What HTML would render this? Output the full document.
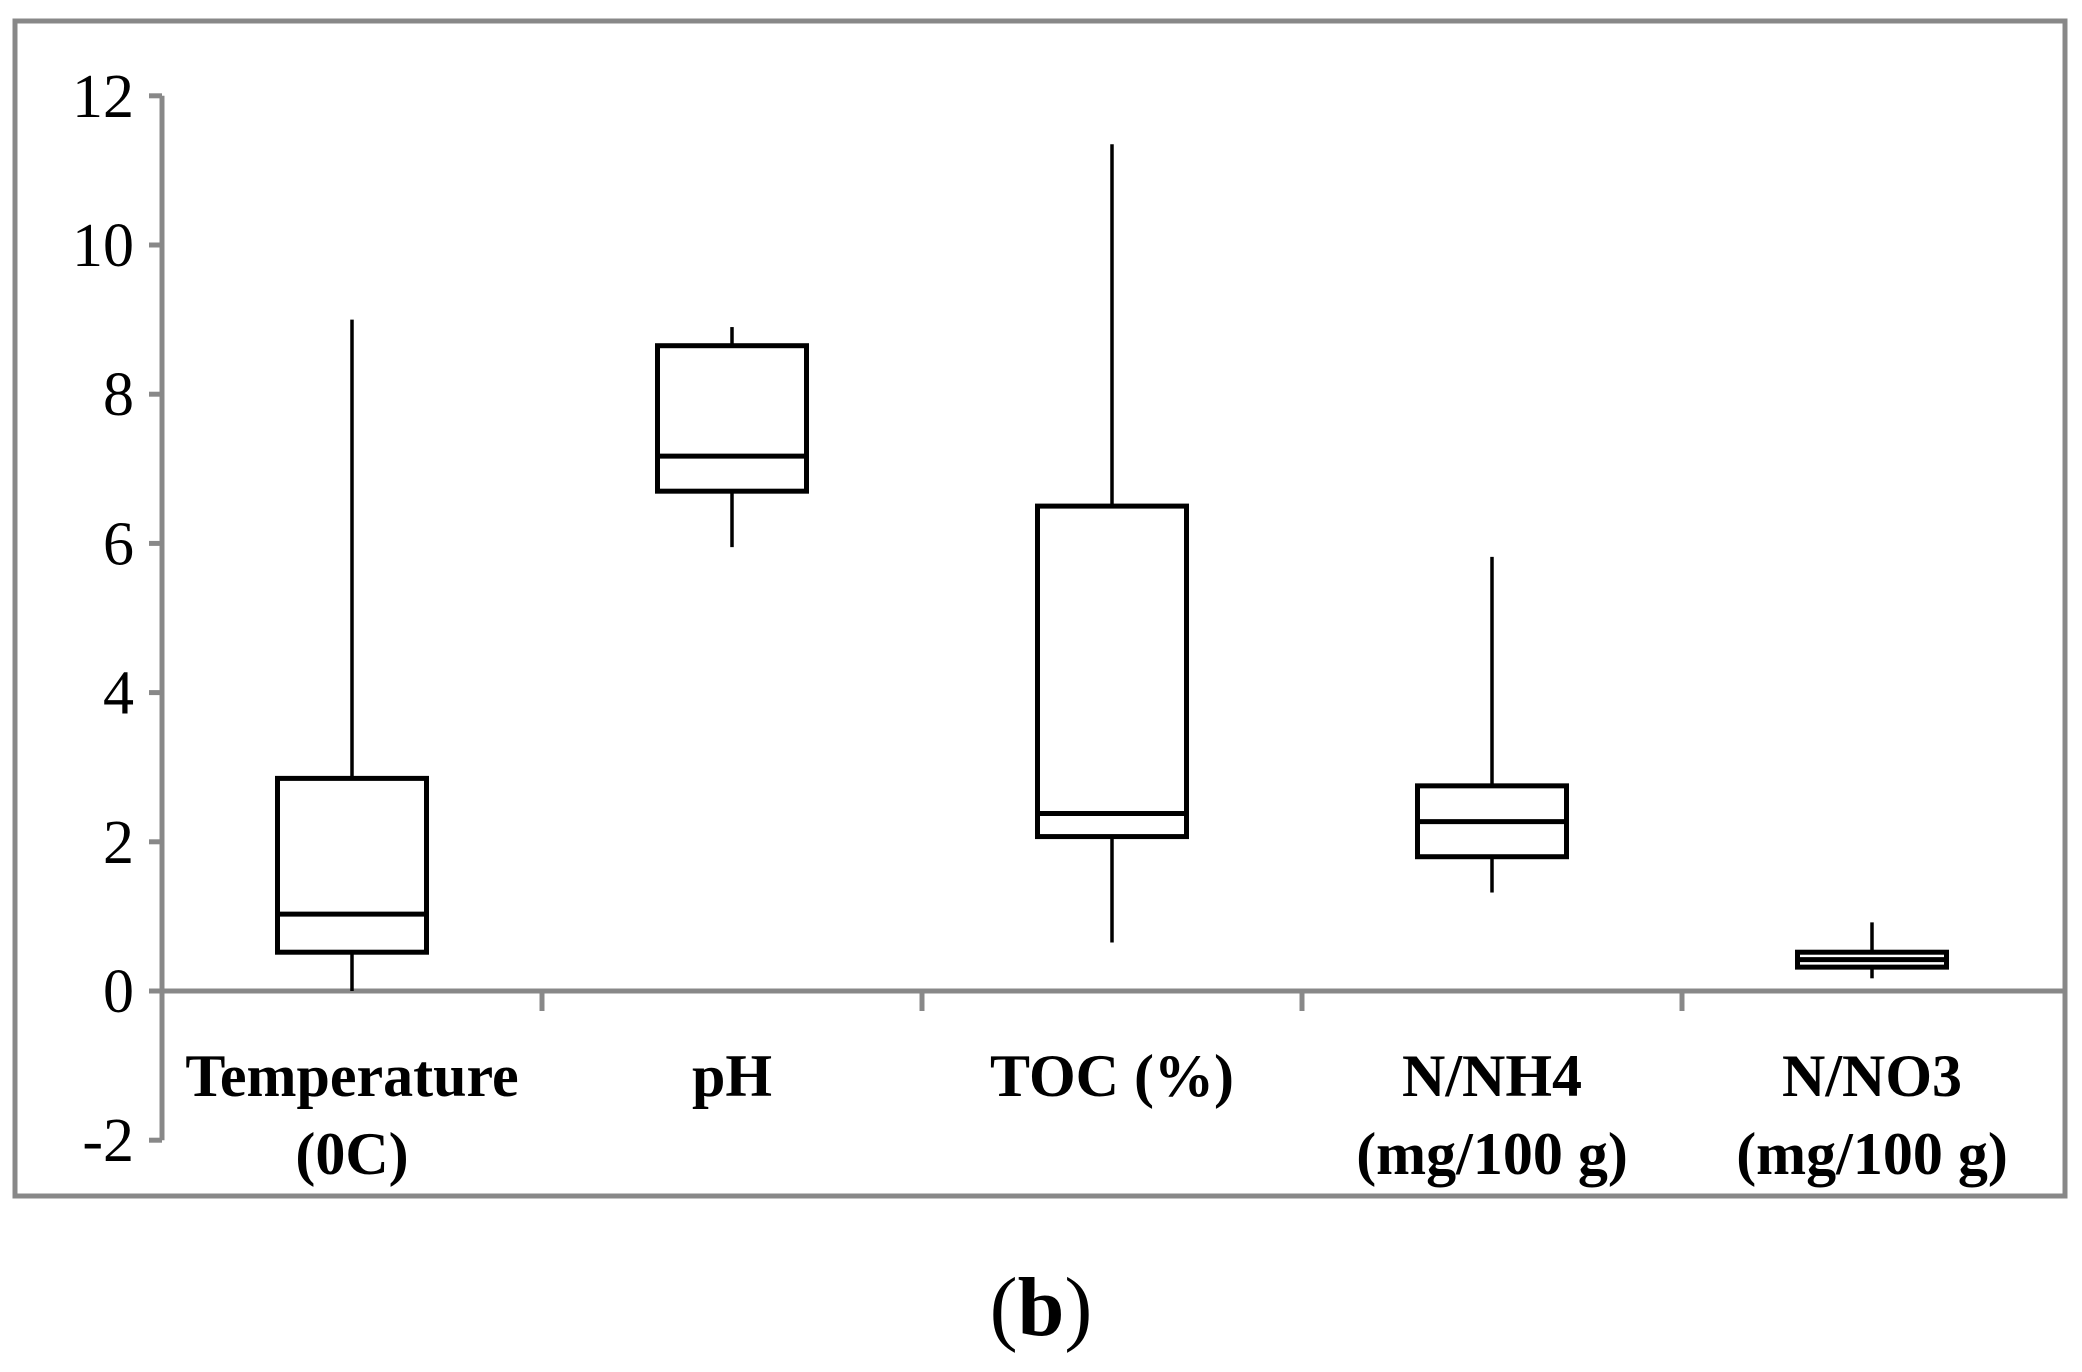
<!DOCTYPE html>
<html><head><meta charset="utf-8"><style>
html,body{margin:0;padding:0;background:#fff;}
svg{display:block;}
text{font-family:"Liberation Serif",serif;fill:#000;}
</style></head><body>
<svg id="chart" width="2082" height="1372" viewBox="0 0 2082 1372" xmlns="http://www.w3.org/2000/svg">
<rect x="15" y="21" width="2050" height="1175" fill="none" stroke="#888" stroke-width="5"/>
<g id="axes"></g>
<g id="boxes"></g>
<text x="1041" y="1335" text-anchor="middle" font-size="84">(<tspan font-weight="bold">b</tspan>)</text>
</svg>
<script>
const categories = [["Temperature","(0C)"],["pH",""],["TOC (%)",""],["N/NH4","(mg/100 g)"],["N/NO3","(mg/100 g)"]];
const mins = [0, 5.95, 0.65, 1.32, 0.17];
const q1s = [0.52, 6.7, 2.07, 1.8, 0.32];
const medians = [1.03, 7.17, 2.38, 2.27, 0.42];
const q3s = [2.85, 8.65, 6.5, 2.75, 0.52];
const maxs = [9.0, 8.9, 11.35, 5.82, 0.92];
const yTicks = [-2, 0, 2, 4, 6, 8, 10, 12];

const NS = "http://www.w3.org/2000/svg";
const x0 = 162, catW = 380, yZero = 991, perUnit = 74.6;
const y = v => yZero - v * perUnit;
const xc = i => x0 + catW * (i + 0.5);
function mk(tag, attrs, parent){const e=document.createElementNS(NS,tag);for(const k in attrs)e.setAttribute(k,attrs[k]);parent.appendChild(e);return e;}
const axes = document.getElementById('axes');
const boxes = document.getElementById('boxes');

let e = mk('line',{x1:x0,y1:y(12),x2:x0,y2:y(-2),stroke:'#888','stroke-width':5},axes);


yTicks.forEach(t=>{
  let l = mk('line',{x1:x0-13,y1:y(t),x2:x0,y2:y(t),stroke:'#888','stroke-width':5},axes);
  
  
  let tx = mk('text',{x:134,y:y(t)+21,'text-anchor':'end','font-size':62},axes);
  tx.textContent = t;
  
  
});
e = mk('line',{x1:x0,y1:y(0),x2:2065,y2:y(0),stroke:'#888','stroke-width':5},axes);


for(let i=1;i<categories.length;i++){
  let l = mk('line',{x1:x0+catW*i,y1:y(0),x2:x0+catW*i,y2:y(0)+20,stroke:'#888','stroke-width':5},axes);
  
  
}
categories.forEach((c,i)=>{
  c.forEach((line,j)=>{
    if(!line) return;
    let tx = mk('text',{x:xc(i),y:1096+j*78,'text-anchor':'middle','font-size':60,'font-weight':'bold'},axes);
    tx.textContent = line;
    
    
  });
});
const bw = 149;
categories.forEach((c,i)=>{
  const cx = xc(i);
  let w = mk('line',{x1:cx,y1:y(maxs[i]),x2:cx,y2:y(q3s[i]),stroke:'#000','stroke-width':3.5},boxes);
  
  
  w = mk('line',{x1:cx,y1:y(q1s[i]),x2:cx,y2:y(mins[i]),stroke:'#000','stroke-width':3.5},boxes);
  
  
  let r = mk('rect',{x:cx-bw/2,y:y(q3s[i]),width:bw,height:y(q1s[i])-y(q3s[i]),fill:'#fff',stroke:'#000','stroke-width':5},boxes);
  
  
  let m = mk('line',{x1:cx-bw/2,y1:y(medians[i]),x2:cx+bw/2,y2:y(medians[i]),stroke:'#000','stroke-width':5},boxes);
  
  
});
</script>
</body></html>
